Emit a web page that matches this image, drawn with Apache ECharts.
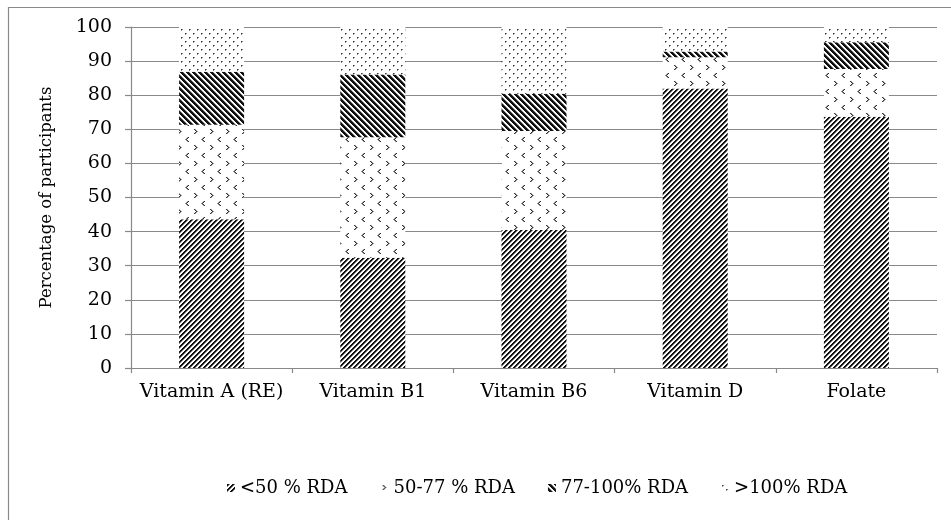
<!DOCTYPE html>
<html>
<head>
<meta charset="utf-8">
<script src="https://cdn.jsdelivr.net/npm/echarts@6/dist/echarts.min.js"></script>
<style>
  html, body { margin: 0; padding: 0; background: #fff; }
  #chart { width: 951px; height: 520px; }
</style>
</head>
<body>
<div id="chart"></div>
<script>
// categories and stacked shares (percentage of participants)
const categories = ['Vitamin A (RE)', 'Vitamin B1', 'Vitamin B6', 'Vitamin D', 'Folate']
const seriesNames = ['<50 % RDA', '50-77 % RDA', '77-100% RDA', '>100% RDA']
const below50 = [43.6, 32.3, 40.5, 82.0, 73.7]
const from50to77 = [27.7, 35.4, 29.0, 9.1, 14.0]
const from77to100 = [15.6, 18.4, 10.9, 1.7, 7.8]
const above100 = [13.1, 13.9, 19.6, 7.2, 4.5]
const yTicks = { min: 0, max: 100, interval: 10 }

const FONT = 'DejaVu Serif'
const GRAY = '#898989'

// small canvas tiles used as fill patterns
function makePattern(w, h, draw) {
  const c = document.createElement('canvas')
  c.width = w
  c.height = h
  const ctx = c.getContext('2d')
  ctx.fillStyle = '#fff'
  ctx.fillRect(0, 0, w, h)
  draw(ctx)
  return { image: c, repeat: 'repeat' }
}

function px(ctx, pts, color) {
  ctx.fillStyle = color
  pts.forEach(p => ctx.fillRect(p[0], p[1], 1, 1))
}

// "/" dense stripes
const stripeUp = makePattern(5, 5, ctx => {
  for (let x = 0; x < 5; x++) {
    for (let y = 0; y < 5; y++) {
      const k = (x + y) % 5
      if (k === 0 || k === 1) px(ctx, [[x, y]], '#111')
      else if (k === 2) px(ctx, [[x, y]], '#8a8a8a')
    }
  }
})

// "\" wider stripes
const stripeDown = makePattern(6, 6, ctx => {
  for (let x = 0; x < 6; x++) {
    for (let y = 0; y < 6; y++) {
      const k = (x - y + 60) % 6
      if (k <= 2) px(ctx, [[x, y]], '#111')
      else if (k === 3) px(ctx, [[x, y]], '#8a8a8a')
    }
  }
})

// chevrons on white
const chevrons = makePattern(16, 16, ctx => {
  px(ctx, [[2, 1], [3, 2], [4, 3], [3, 4], [2, 5]], '#333')
  px(ctx, [[3, 1], [4, 2], [5, 3], [4, 4], [3, 5]], '#999')
  px(ctx, [[12, 9], [11, 10], [10, 11], [11, 12], [12, 13]], '#333')
  px(ctx, [[11, 9], [10, 10], [9, 11], [10, 12], [11, 13]], '#999')
})

// small dots
const dots = makePattern(8, 8, ctx => {
  px(ctx, [[1, 1], [5, 5]], '#333')
  px(ctx, [[2, 1], [6, 5], [1, 2], [5, 6]], '#888')
})

const fills = [stripeUp, chevrons, stripeDown, dots]
const values = [below50, from50to77, from77to100, above100]

const chart = echarts.init(document.getElementById('chart'), null, { renderer: 'canvas' })

chart.setOption({
  animation: false,
  backgroundColor: '#fff',
  textStyle: { fontFamily: FONT, color: '#000' },
  graphic: [{
    type: 'rect',
    shape: { x: 8.5, y: 7.5, width: 980, height: 560 },
    style: { fill: 'none', stroke: GRAY, lineWidth: 1.2 },
    silent: true
  }],
  grid: { left: 131, right: 14, top: 27, bottom: 152 },
  legend: {
    left: 222,
    top: 474,
    itemWidth: 8,
    itemHeight: 8,
    itemGap: 33,
    icon: 'rect',
    textStyle: { fontFamily: FONT, fontSize: 18, color: '#000' },
    data: seriesNames
  },
  xAxis: {
    type: 'category',
    data: categories,
    axisLine: { lineStyle: { color: GRAY, width: 1.2 } },
    axisTick: { show: true, length: 5, lineStyle: { color: GRAY, width: 1.2 } },
    axisLabel: { interval: 0, fontFamily: FONT, fontSize: 19, color: '#000', margin: 15 }
  },
  yAxis: {
    type: 'value',
    min: yTicks.min,
    max: yTicks.max,
    interval: yTicks.interval,
    name: 'Percentage of participants',
    nameLocation: 'middle',
    nameGap: 76,
    nameTextStyle: { fontFamily: FONT, fontSize: 16.5, color: '#000' },
    axisLine: { show: true, lineStyle: { color: GRAY, width: 1.2 } },
    axisTick: { show: true, length: 6, lineStyle: { color: GRAY, width: 1.2 } },
    axisLabel: { fontFamily: FONT, fontSize: 19, color: '#000', margin: 19 },
    splitLine: { lineStyle: { color: GRAY, width: 1.2 } }
  },
  series: seriesNames.map((name, i) => ({
    name,
    type: 'bar',
    stack: 'total',
    barWidth: 65,
    data: values[i],
    itemStyle: { color: fills[i] }
  }))
})
</script>
</body>
</html>
